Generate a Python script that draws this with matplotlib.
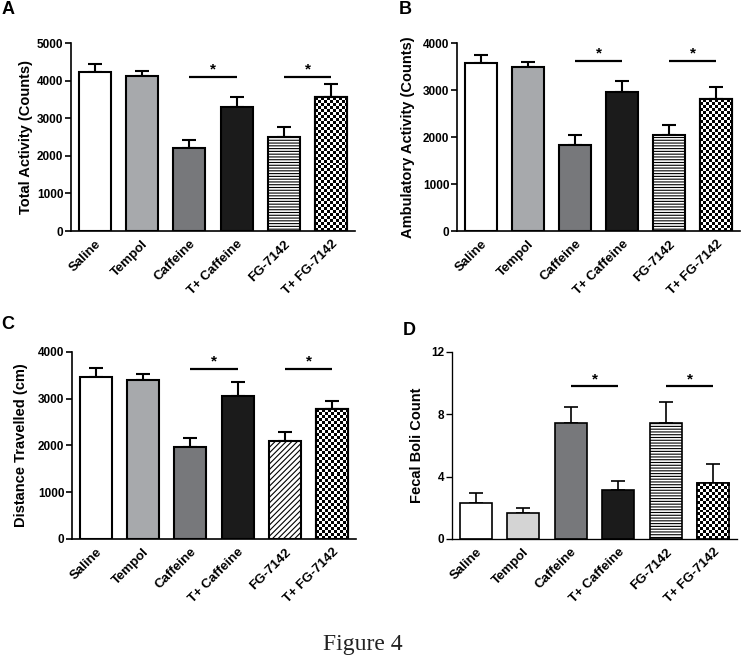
import numpy as np
import matplotlib
matplotlib.use("Agg")
import matplotlib.pyplot as plt

plt.rcParams["font.family"] = ["Liberation Sans", "DejaVu Sans"]
plt.rcParams["hatch.linewidth"] = 0.8

# ── Data ─────────────────────────────────────────────────────────────────────
groups = ["Saline", "Tempol", "Caffeine", "T+ Caffeine", "FG-7142", "T+ FG-7142"]

total_mean = [4220, 4130, 2200, 3290, 2510, 3560]
total_sem = [230, 115, 220, 285, 265, 345]

ambul_mean = [3570, 3500, 1830, 2950, 2040, 2800]
ambul_sem = [180, 100, 210, 250, 210, 270]

dist_mean = [3460, 3410, 1960, 3050, 2100, 2780]
dist_sem = [200, 120, 190, 310, 190, 180]

boli_mean = [2.32, 1.68, 7.43, 3.17, 7.43, 3.57]
boli_sem = [0.66, 0.34, 1.06, 0.53, 1.34, 1.22]

# significance bars: (from group, to group, height)
sig_A = [(2, 3, 4100), (4, 5, 4100)]
sig_B = [(2, 3, 3620), (4, 5, 3620)]
sig_C = [(2, 3, 3640), (4, 5, 3640)]
sig_D = [(2, 3, 9.8), (4, 5, 9.8)]

fig = plt.figure(figsize=(7.41, 6.55), dpi=100)


def checker_fill(ax, patch, cell_px=3.0):
    """Fill a bar with a black/white checkerboard, clipped to the bar."""
    fig.canvas.draw()
    bb = patch.get_window_extent()
    ncol = max(1, int(round(bb.width / cell_px)))
    nrow = max(1, int(round(bb.height / cell_px)))
    grid = np.add.outer(np.arange(nrow), np.arange(ncol)) % 2
    x0, y0 = patch.get_x(), patch.get_y()
    w, h = patch.get_width(), patch.get_height()
    im = ax.imshow(grid, cmap="gray", extent=(x0, x0 + w, y0, y0 + h),
                   origin="lower", interpolation="nearest", aspect="auto",
                   zorder=2.1)
    im.set_clip_path(patch)


def panel(rect, means, sems, ylabel, yticks, sigs, letter, letter_xy,
          label_x, tempol_color="#a7a9ac", fg_hatch="------", lw=1.5):
    ax = fig.add_axes(rect)
    x = np.arange(len(groups))
    faces = ["white", tempol_color, "#77787b", "#1b1b1b", "white", "white"]
    hatches = [None, None, None, None, fg_hatch, None]
    bars = ax.bar(x, means, width=0.68, color=faces, edgecolor="black",
                  linewidth=lw, zorder=2)
    for b, h in zip(bars, hatches):
        if h:
            b.set_hatch(h)
    ax.errorbar(x, means, yerr=[np.zeros(len(sems)), sems], fmt="none",
                ecolor="black", elinewidth=lw, capsize=4.7, capthick=lw,
                zorder=1)
    ax.set_xlim(-0.5, 5.5)
    ax.set_ylim(0, yticks[-1])
    checker_fill(ax, bars[5])
    # redraw outline above the checkerboard
    ax.bar(x[5], means[5], width=0.68, fill=False, edgecolor="black",
           linewidth=lw, zorder=3)
    ax.set_xlim(-0.5, 5.5)
    ax.set_ylim(0, yticks[-1])

    for i, j, yv in sigs:
        ax.plot([i, j], [yv, yv], color="black", lw=1.6, clip_on=False,
                solid_capstyle="butt")
        ax.text((i + j) / 2, yv, "*", ha="center", va="bottom", fontsize=11,
                fontweight="bold")

    ax.set_yticks(yticks)
    ax.set_xticks(x)
    ax.set_xticklabels(groups, rotation=45, ha="right", va="top",
                       rotation_mode="anchor", fontsize=9.5, fontweight="bold")
    ax.tick_params(axis="x", length=0, pad=5)
    ax.tick_params(axis="y", length=4, width=lw * 0.8, labelsize=8.5, pad=1.5)
    for t in ax.get_yticklabels():
        t.set_fontweight("bold")
    ax.set_ylabel(ylabel, fontsize=10.5, fontweight="bold")
    ax.yaxis.set_label_coords(label_x, 0.5)
    for s in ["top", "right"]:
        ax.spines[s].set_visible(False)
    for s in ["left", "bottom"]:
        ax.spines[s].set_linewidth(lw * 0.8)
    fig.text(letter_xy[0], letter_xy[1], letter, fontsize=13,
             fontweight="bold", ha="left", va="top")
    return ax


panel([0.0958, 0.6473, 0.3833, 0.2870], total_mean, total_sem,
      "Total Activity (Counts)", [0, 1000, 2000, 3000, 4000, 5000], sig_A,
      "A", (0.002, 0.998), -0.132)
panel([0.6167, 0.6473, 0.3820, 0.2870], ambul_mean, ambul_sem,
      "Ambulatory Activity (Counts)", [0, 1000, 2000, 3000, 4000], sig_B,
      "B", (0.538, 0.998), -0.147)
panel([0.0972, 0.1771, 0.3833, 0.2855], dist_mean, dist_sem,
      "Distance Travelled (cm)", [0, 1000, 2000, 3000, 4000], sig_C,
      "C", (0.002, 0.518), -0.155, fg_hatch="//////")
panel([0.6100, 0.1771, 0.3846, 0.2855], boli_mean, boli_sem,
      "Fecal Boli Count", [0, 4, 8, 12], sig_D,
      "D", (0.543, 0.508), -0.097, tempol_color="#d4d4d4", lw=1.2)

fig.text(0.489, 0.008, "Figure 4", family="Liberation Serif", fontsize=17,
         ha="center", va="baseline", color="#222222")

fig.savefig("out.png", dpi=100)
